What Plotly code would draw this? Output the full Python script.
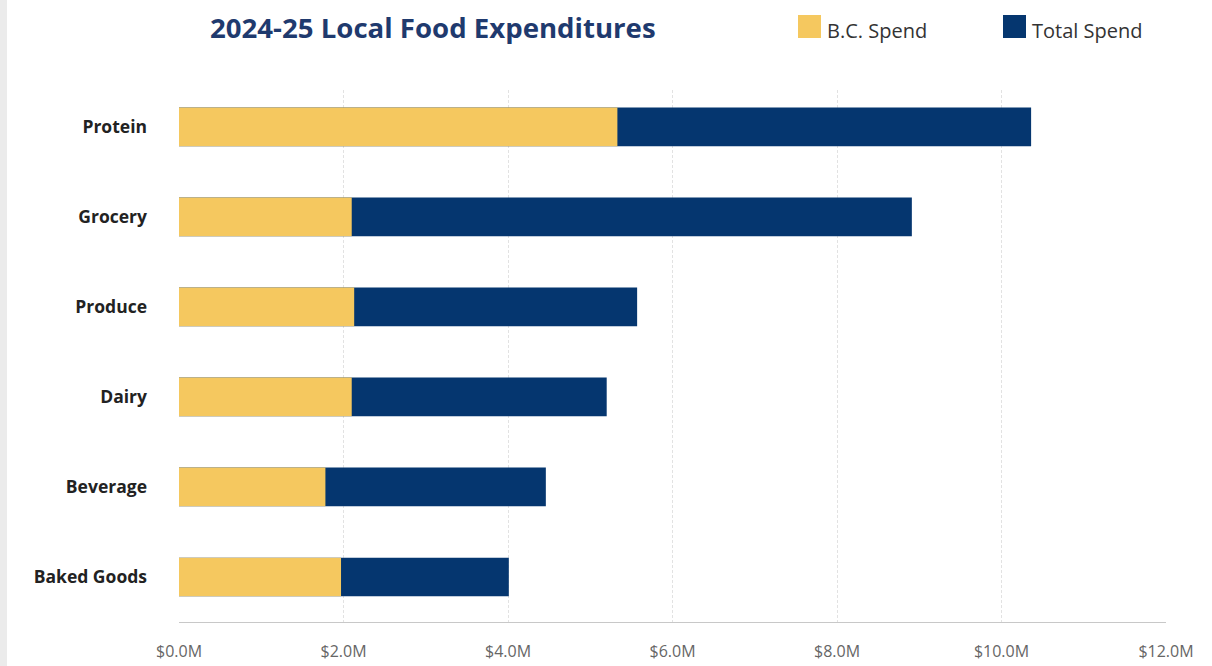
import plotly.graph_objects as go

categories = ["Protein", "Grocery", "Produce", "Dairy", "Beverage", "Baked Goods"]
bc_spend = [5.33, 2.10, 2.13, 2.10, 1.78, 1.97]       # $M
total_spend = [10.36, 8.91, 5.57, 5.20, 4.46, 4.01]   # $M
x_ticks = [0, 2, 4, 6, 8, 10, 12]
x_tick_labels = [f"${v:.1f}M" for v in x_ticks]
series_names = ["B.C. Spend", "Total Spend"]

NAVY = "#05366f"
YELLOW = "#f5c85f"

W, H = 1212, 666
L, R, T, B = 179, 46, 90, 44
PW, PH = W - L - R, H - T - B

def px_x(p):
    return (p - L) / PW

def px_y(p):
    return (H - B - p) / PH

fig = go.Figure()
fig.add_trace(go.Bar(y=categories, x=total_spend, orientation="h", name=series_names[1],
                     marker=dict(color=NAVY, line=dict(width=0)), width=0.43, showlegend=False))
fig.add_trace(go.Bar(y=categories, x=bc_spend, orientation="h", name=series_names[0],
                     marker=dict(color=YELLOW, line=dict(width=0)), width=0.43, showlegend=False))

# manual legend (large square swatches)
shapes = [dict(type="rect", xref="paper", yref="paper", x0=px_x(0), x1=px_x(7),
               y0=px_y(666), y1=px_y(0), fillcolor="#ebebeb", line=dict(width=0), layer="below")]
annotations = []
for name, color, sx in [(series_names[0], YELLOW, 798), (series_names[1], NAVY, 1003)]:
    shapes.append(dict(type="rect", xref="paper", yref="paper", x0=px_x(sx), x1=px_x(sx + 23),
                       y0=px_y(38), y1=px_y(15), fillcolor=color, line=dict(width=0)))
    annotations.append(dict(text=name, xref="paper", yref="paper", x=px_x(sx + 27), y=px_y(30),
                            xanchor="left", yanchor="middle", showarrow=False,
                            font=dict(size=20, color="#333", family="Open Sans")))

fig.update_layout(
    width=W, height=H,
    barmode="overlay",
    paper_bgcolor="white", plot_bgcolor="white",
    margin=dict(l=L, r=R, t=T, b=B, autoexpand=False),
    font=dict(family="Open Sans", color="#333"),
    title=dict(text="<b>2024-25 Local Food Expenditures</b>", x=210 / W, xanchor="left",
               y=1 - 28 / H, yanchor="middle", font=dict(size=27.6, color="#1f3a6e", family="Open Sans")),
    showlegend=False,
    xaxis=dict(range=[0, 12], tickmode="array", tickvals=x_ticks, ticktext=x_tick_labels,
               showgrid=True, gridcolor="#e2e2e2", griddash="3px,2px", gridwidth=1,
               showline=True, linecolor="#c8c8c8", linewidth=1, zeroline=False,
               tickfont=dict(size=16, color="#666"), ticklabelstandoff=15,
               automargin=False, fixedrange=True),
    yaxis=dict(categoryorder="array", categoryarray=categories[::-1], range=[-0.5, 5.41],
               showgrid=False, showline=False, zeroline=False,
               tickmode="array", tickvals=categories, ticktext=[f"<b>{c}</b>" for c in categories],
               tickfont=dict(size=17.5, color="#222", family="Open Sans"),
               ticklabelstandoff=31, automargin=False, fixedrange=True),
    shapes=shapes,
    annotations=annotations,
)

fig.write_html("out.html")
